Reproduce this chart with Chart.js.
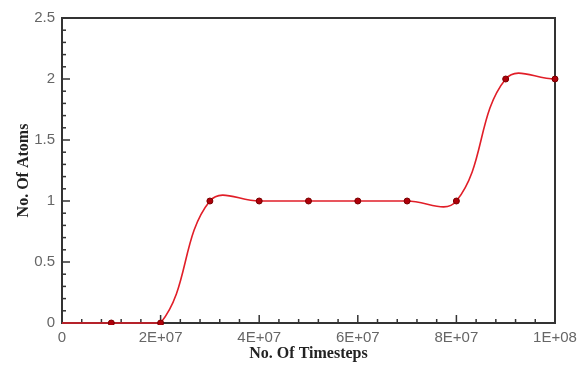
<!DOCTYPE html>
<html>
<head>
<meta charset="utf-8">
<script src="https://cdn.jsdelivr.net/npm/chart.js@4"></script>
<style>
  html, body { margin: 0; padding: 0; background: #fff; }
  #wrap { width: 585px; height: 365px; }
</style>
</head>
<body>
<div id="wrap"><canvas id="ATOMCHART"></canvas></div>
<script>
// values
const timesteps = [0, 1e7, 2e7, 3e7, 4e7, 5e7, 6e7, 7e7, 8e7, 9e7, 1e8];
const atoms = [0, 0, 0, 1, 1, 1, 1, 1, 1, 2, 2];
const markerSize = [0, 3, 3, 3, 3, 3, 3, 3, 3, 3, 3];

function sciLabel(v) {
    if (v === 0) return '0';
    let parts = v.toExponential(0).toUpperCase().split('E');
    let sign = parts[1][0];
    let exp = parts[1].slice(1).padStart(2, '0');
    return parts[0] + 'E' + sign + exp;
}

// inward major / minor ticks and the frame round the plot, under the line
const frameTicks = {
    id: 'frameTicks',
    beforeDatasetsDraw(chart) {
        let ctx = chart.ctx;
        let a = chart.chartArea;
        let xs = chart.scales.x, ys = chart.scales.y;
        ctx.save();
        ctx.strokeStyle = '#333';
        ctx.lineWidth = 1.5;
        for (let i = 0; i <= 25; i++) {
            let px = xs.getPixelForValue(i * 4e6);
            let len = (i % 5 === 0) ? 8 : 4;
            ctx.beginPath();
            ctx.moveTo(px, a.bottom);
            ctx.lineTo(px, a.bottom - len);
            ctx.stroke();
        }
        for (let i = 0; i <= 25; i++) {
            let py = ys.getPixelForValue(i * 0.1);
            let len = (i % 5 === 0) ? 8 : 4;
            ctx.beginPath();
            ctx.moveTo(a.left, py);
            ctx.lineTo(a.left + len, py);
            ctx.stroke();
        }
        ctx.lineWidth = 2;
        ctx.strokeRect(a.left, a.top, a.right - a.left, a.bottom - a.top);
        ctx.restore();
    }
};

let ctx = document.getElementById('ATOMCHART');

let atom_chart = new Chart(ctx, {
    type: 'line',
    data: {
        datasets: [{
            label: 'No. Of Atoms',
            data: timesteps.map((t, i) => ({ x: t, y: atoms[i] })),
            borderColor: 'rgb(225, 30, 40)',
            borderWidth: 1.6,
            tension: 0.4,
            fill: false,
            clip: { left: 0, top: 0, right: 5, bottom: 2 },
            pointRadius: markerSize,
            pointBackgroundColor: 'rgb(175, 0, 10)',
            pointBorderColor: 'rgb(120, 0, 0)',
            pointBorderWidth: 1
        }]
    },
    options: {
        responsive: true,
        maintainAspectRatio: false,
        animation: false,
        layout: {
            padding: { top: 18, right: 30, left: 0, bottom: 0 }
        },
        scales: {
            x: {
                type: 'linear',
                min: 0,
                max: 1e8,
                afterFit(scale) { scale.height = 42; },
                grid: { display: false, drawTicks: false },
                border: { display: false },
                ticks: {
                    stepSize: 2e7,
                    padding: 6,
                    color: '#666',
                    font: { family: 'Liberation Sans', size: 15 },
                    maxRotation: 0,
                    callback: (v) => sciLabel(v)
                },
                title: {
                    display: true,
                    text: 'No. Of Timesteps',
                    color: '#222',
                    padding: { top: 0, bottom: 2 },
                    font: { family: 'Liberation Serif', size: 16, weight: 'bold' }
                }
            },
            y: {
                min: 0,
                max: 2.5,
                afterFit(scale) { scale.width = 62; },
                grid: { display: false, drawTicks: false },
                border: { display: false },
                ticks: {
                    stepSize: 0.5,
                    padding: 7,
                    color: '#666',
                    font: { family: 'Liberation Sans', size: 15 },
                    callback: (v) => String(v)
                },
                title: {
                    display: true,
                    text: 'No. Of Atoms',
                    color: '#222',
                    padding: { top: 14, bottom: 0 },
                    font: { family: 'Liberation Serif', size: 16, weight: 'bold' }
                }
            }
        },
        plugins: {
            legend: { display: false },
            tooltip: { enabled: false }
        }
    },
    plugins: [frameTicks]
});
</script>
</body>
</html>
